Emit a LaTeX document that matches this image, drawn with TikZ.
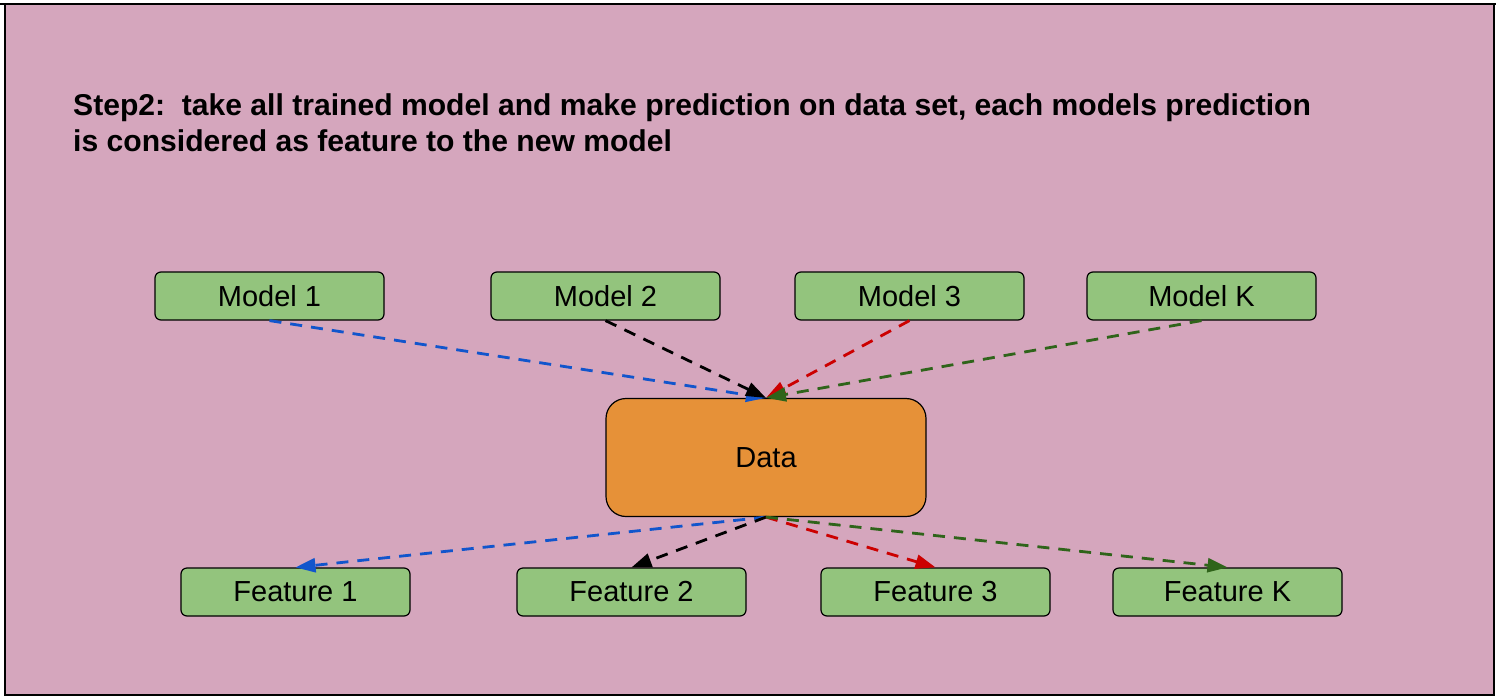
\documentclass[tikz,border=0pt]{standalone}
\usepackage{fontspec}
\setmainfont{Liberation Sans}
\usetikzlibrary{arrows.meta}
\definecolor{bgpink}{HTML}{D5A6BD}
\definecolor{boxgreen}{HTML}{93C47D}
\definecolor{dataorange}{HTML}{E69138}
\definecolor{linkblue}{HTML}{1155CC}
\definecolor{linkred}{HTML}{CC0000}
\definecolor{linkgreen}{HTML}{2F641A}
\tikzset{basic/.style={draw,line width=1.2pt,rounded corners=6pt,inner sep=0pt,
                       font=\fontsize{29}{34}\selectfont}}
\tikzset{box/.style={basic,fill=boxgreen,minimum width=229pt,minimum height=48pt}}
\tikzset{datanode/.style={basic,fill=dataorange,rounded corners=20pt,
                          minimum width=320pt,minimum height=118pt}}
\tikzset{link/.style={line width=2.8pt,dash pattern=on 12pt off 9pt,
                      -{Triangle[length=20pt,width=14pt]}}}
\begin{document}
\begin{tikzpicture}[x=1pt,y=-1pt]
    \useasboundingbox (0,0) rectangle (1496,699);

    % frame
    \fill[bgpink] (5,4) rectangle (1494,695);
    \draw[line width=1.2pt] (0,4) -- (1496,4);
    \draw[line width=1.2pt] (5,4) -- (5,695) -- (1494,695) -- (1494,4);

    % title
    \node[anchor=north west,inner sep=0pt,align=left,
          font=\fontsize{30.1}{36}\bfseries\selectfont] (title) at (73,93)
        {Step2:\ \ take all trained model and make prediction on data set, each models prediction\\
         is considered as feature to the new model};

    % data
    \node[datanode] (data) at (766,457.5) {Data};

    % models
    \foreach \h/\x [count=\hi] in {Model 1/269.5,Model 2/605.5,Model 3/909.5,Model K/1201.5}{
        \node[box] (model\hi) at (\x,296) {\h};
    }
    % features
    \foreach \h/\x [count=\hi] in {Feature 1/295.5,Feature 2/631.5,Feature 3/935.5,Feature K/1227.5}{
        \node[box] (feat\hi) at (\x,592) {\h};
    }

    % links
    \foreach \c [count=\hi] in {linkblue,black,linkred,linkgreen}{
        \draw[link,\c] (model\hi.south) -- (data.north);
        \draw[link,\c] (data.south) -- (feat\hi.north);
    }
\end{tikzpicture}
\end{document}
